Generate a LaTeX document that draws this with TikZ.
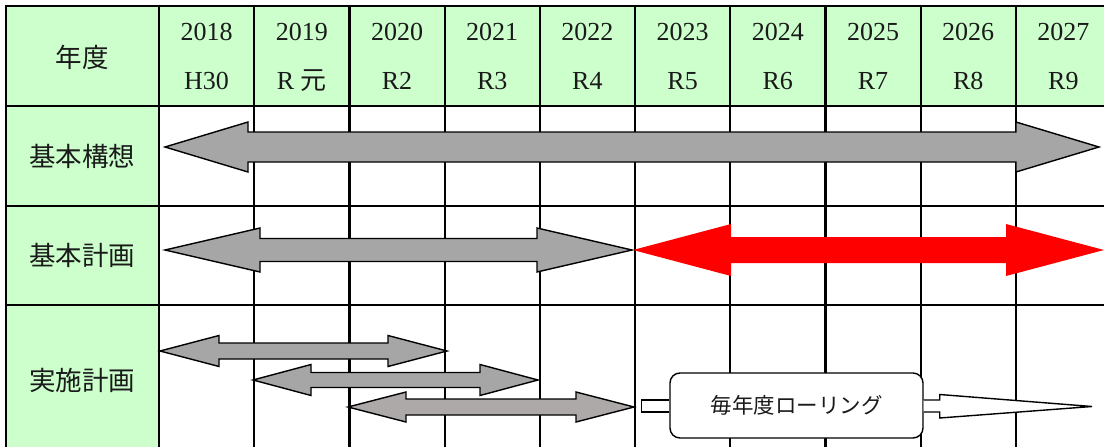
\documentclass[tikz,border=0pt]{standalone}
\usepackage{fontspec}
\usetikzlibrary{calc}
\setmainfont{Liberation Serif}
\newfontfamily\jp{Noto Sans CJK JP}
\definecolor{hdr}{HTML}{CCFFCC}
\definecolor{arrgray}{HTML}{A6A6A6}
\definecolor{arrgrayb}{HTML}{ADA9A9}
\definecolor{txt}{HTML}{1A1A1A}
\newcommand\dblarrow[7]{%
  \path[#1] (#2,#4) -- ({#2+#5},{#4-#6}) -- ({#2+#5},{#4-#7}) -- ({#3-#5},{#4-#7})
   -- ({#3-#5},{#4-#6}) -- (#3,#4) -- ({#3-#5},{#4+#6}) -- ({#3-#5},{#4+#7})
   -- ({#2+#5},{#4+#7}) -- ({#2+#5},{#4+#6}) -- cycle;}
\begin{document}
\begin{tikzpicture}[x=1pt,y=-1pt,
  grid/.style={line width=2.2pt, black, line cap=rect},
  garrow/.style={fill=arrgray, draw=black, line width=1.4pt, line join=miter},
  garrowb/.style={fill=arrgrayb, draw=black, line width=1.4pt, line join=miter},
  rarrow/.style={fill=red},
  yeartxt/.style={font=\fontsize{26}{30}\selectfont, text=txt, inner sep=0pt},
  rowlabel/.style={font=\jp\fontsize{26.5}{30}\selectfont, text=txt, inner sep=0pt},
  rollbox/.style={draw=black, fill=white, line width=1.4pt, rounded corners=10pt,
    minimum width=253pt, minimum height=65pt, inner sep=0pt,
    font=\jp\fontsize{21.5}{24}\selectfont, text=txt},
  thinbox/.style={draw=black, fill=white, line width=1.4pt, line join=miter}]
\useasboundingbox (0,0) rectangle (1104,447);
% backgrounds
\fill[white] (0,0) rectangle (1104,447);
\fill[hdr] (6,6) rectangle (1104,106);
\fill[hdr] (6,106) rectangle (159,447);
% grid
\draw[grid] (6,447) -- (6,6) -- (1104,6);
\foreach \y in {106,206,305} \draw[grid] (6,\y) -- (1104,\y);
\draw[grid] (159,6) -- (159,447);
\foreach \i in {1,...,9} \draw[grid] ({159+95.2*\i},6) -- ({159+95.2*\i},447);
% header texts
\node[rowlabel] (nendo) at (82,57) {年度};
\foreach \i/\yr/\era in {0/2018/H30,1/2019/R~{\jp 元},2/2020/R2,3/2021/R3,4/2022/R4,5/2023/R5,6/2024/R6,7/2025/R7,8/2026/R8,9/2027/R9} {
  \node[yeartxt] (yr\i) at ({159+95.2*\i+47.6},32) {\yr};
  \node[yeartxt] (era\i) at ({159+95.2*\i+47.6},81) {\era};
}
\node[rowlabel] (kousou) at (82,156) {基本構想};
\node[rowlabel] (keikaku) at (82,255) {基本計画};
\node[rowlabel] (jisshi) at (82,380) {実施計画};
% arrows
\dblarrow{garrow}{165}{1099}{147}{83}{25}{15}
\dblarrow{garrow}{165}{632}{250}{95}{22}{11.5}
\dblarrow{rarrow}{633}{1104}{250}{98}{26}{13}
\dblarrow{garrow}{160}{447}{351}{59}{15.5}{8}
\dblarrow{garrow}{253}{538}{380}{58}{15.5}{7.5}
\dblarrow{garrowb}{348}{634}{407}{58}{15}{8}
% rolling box
\node[rollbox] (roll) at (796.5,405.5) {毎年度ローリング};
\draw[thinbox] ($(roll.west)+(0,-5.5)$) -- ++(-28,0) -- ++(0,12) -- ($(roll.west)+(0,6.5)$);
\coordinate (rolltip) at (1092,406.5);
\draw[thinbox]
  ($(roll.east)+(0,-5.5)$) -- ++(16,0) -- ++(0,-5.5) -- (rolltip)
  -- ($(roll.east)+(16,12.5)$) -- ++(0,-6) -- ($(roll.east)+(0,6.5)$);
\end{tikzpicture}
\end{document}
